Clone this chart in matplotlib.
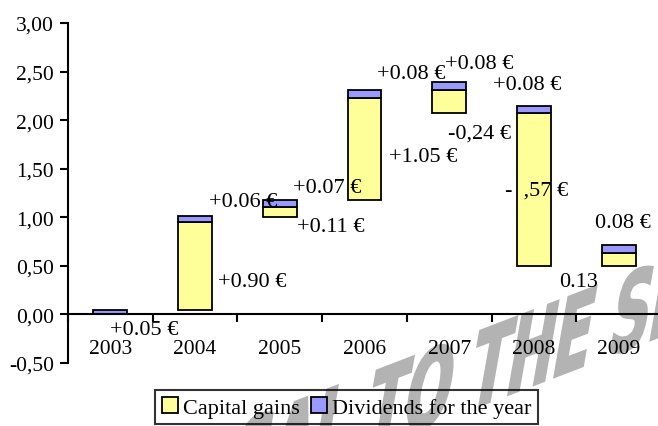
import math
import matplotlib
matplotlib.use("Agg")
import matplotlib.pyplot as plt
from matplotlib.patches import Patch, PathPatch
from matplotlib.ticker import FuncFormatter
from matplotlib.textpath import TextPath
from matplotlib.font_manager import FontProperties
from matplotlib.transforms import Affine2D, IdentityTransform

years = ["2003", "2004", "2005", "2006", "2007", "2008", "2009"]
bases = [0.00, 0.05, 1.00, 1.18, 2.07, 0.50, 0.50]
capital_gains = [0.00, 0.90, 0.11, 1.05, 0.24, 1.57, 0.13]
dividends = [0.05, 0.06, 0.07, 0.08, 0.08, 0.08, 0.08]
label_texts = ["+0.05 €", "+0.90 €", "+0.06 €", "+0.07 €", "+0.11 €",
               "+0.08 €", "+1.05 €", "+0.08 €", "-0,24 €", "+0.08 €",
               "-  ,57 €", "0.08 €", "0.13"]
yticks = [-0.5, 0.0, 0.5, 1.0, 1.5, 2.0, 2.5, 3.0]
watermark = "PROPOSAL TO THE SHAREHOLDERS"

# layout for labels (x in category units, y in value units)
label_x = [0.00, 1.27, 1.16, 2.16, 2.20, 3.15, 3.29, 3.95, 3.99, 4.52, 4.66, 5.72, 5.30]
label_y = [-0.16, 0.34, 1.16, 1.31, 0.90, 2.48, 1.63, 2.58, 1.87, 2.37, 1.28, 0.95, 0.34]

SERIF = ["Liberation Serif", "DejaVu Serif"]
plt.rcParams["font.family"] = SERIF
FS = 16
TFS = 15.5
YELLOW = "#FFFF99"
BLUE = "#9999FF"

W, H = 658, 427
fig = plt.figure(figsize=(W / 100, H / 100), dpi=100)
fig.patch.set_facecolor("white")

# ---- watermark (condensed, skewed text path in pixel coords) ----
wprop = FontProperties(family="DejaVu Sans", weight="bold")
EM = 110.0
full = TextPath((0, 0), watermark, size=EM, prop=wprop)
pre = TextPath((0, 0), "PROPOSAL TO THE", size=EM, prop=wprop).get_extents()
the = TextPath((0, 0), "THE", size=EM, prop=wprop).get_extents()
the_start = pre.x1 - the.width
sx, sy = 0.50, 1.0
rise = math.tan(math.radians(21))
lean = math.tan(math.radians(10))
tr = (Affine2D().translate(-the_start, 0).scale(sx, sy)
      + Affine2D(matrix=[[1, lean, 0], [rise, 1, 0], [0, 0, 1]])
      + Affine2D().translate(466, H - 412))
wm = PathPatch(tr.transform_path(full), facecolor="#b3b3b3", edgecolor="#b3b3b3",
               linewidth=1.5, transform=IdentityTransform(), zorder=-1)
fig.add_artist(wm)

ax = fig.add_axes([68 / W, (H - 364) / H, 593 / W, 340 / H])
ax.set_facecolor("none")

x = list(range(len(years)))
gain_tops = [b + g for b, g in zip(bases, capital_gains)]
ax.bar(x, capital_gains, bottom=bases, width=0.4, color=YELLOW,
       edgecolor="black", linewidth=1.3, zorder=2)
ax.bar(x, dividends, bottom=gain_tops, width=0.4, color=BLUE,
       edgecolor="black", linewidth=1.3, zorder=2)

for t, lx, ly in zip(label_texts, label_x, label_y):
    ax.text(lx, ly, t, fontsize=FS, ha="left", va="center", zorder=4)

ax.set_xlim(-0.5, 6.5)
ax.set_ylim(-0.5, 3.0)
ax.set_yticks(yticks)
ax.yaxis.set_major_formatter(FuncFormatter(lambda v, p: f"{v:.2f}".replace(".", ",")))

# year labels at category centres (major), tick marks at boundaries (minor)
ax.set_xticks(x)
ax.set_xticklabels(years)
ax.set_xticks([i - 0.5 for i in range(len(years) + 1)], minor=True)
ax.tick_params(axis="x", which="major", length=0, pad=18, labelsize=TFS)
ax.tick_params(axis="x", which="minor", direction="out", length=6, width=1.5)
ax.tick_params(axis="y", direction="out", length=6, width=1.5, pad=4, labelsize=TFS)

for s in ["top", "right"]:
    ax.spines[s].set_visible(False)
ax.spines["bottom"].set_position(("data", 0))
ax.spines["bottom"].set_linewidth(1.5)
ax.spines["left"].set_linewidth(1.5)
ax.spines["bottom"].set_zorder(3)

handles = [Patch(facecolor=YELLOW, edgecolor="black", linewidth=1.3, label="Capital gains"),
           Patch(facecolor=BLUE, edgecolor="black", linewidth=1.3, label="Dividends for the year")]
leg = fig.legend(handles=handles, loc="upper left", bbox_to_anchor=(155 / W, (H - 391) / H),
                 ncol=2, frameon=True, fancybox=False, prop={"size": FS},
                 handlelength=0.75, handleheight=0.75, handletextpad=0.2,
                 columnspacing=0.5, borderpad=0.3, borderaxespad=0)
leg.get_frame().set_edgecolor("black")
leg.get_frame().set_linewidth(1.5)
leg.get_frame().set_facecolor("none")

fig.savefig("out.png", dpi=100)
